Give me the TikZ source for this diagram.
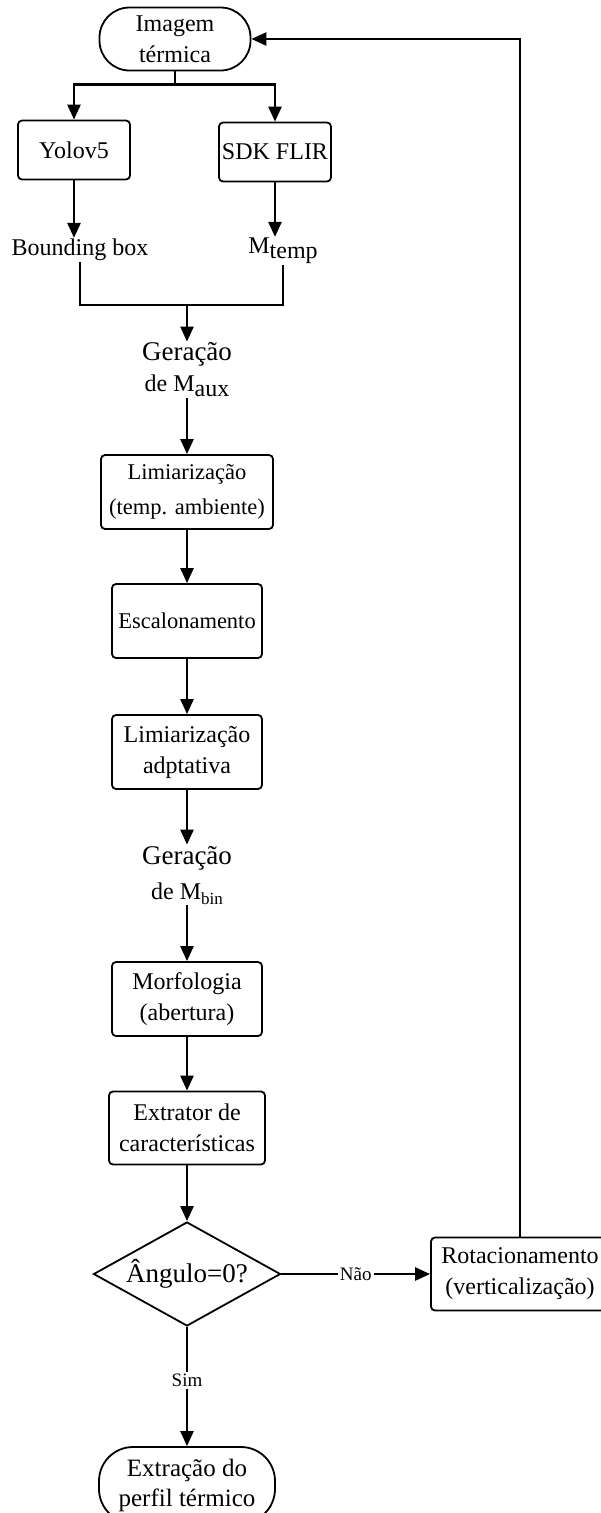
\documentclass[tikz,border=0pt]{standalone}
\usepackage{fontspec}
\setmainfont{Liberation Serif}
\usetikzlibrary{
    arrows.meta,
    shapes.geometric
}
\tikzset{
    every node/.style={font=\fontsize{24}{31}\selectfont, align=center},
    proc/.style={draw, line width=1.8pt, rounded corners=4pt, minimum width=150pt, minimum height=74pt, inner sep=2pt},
    term/.style={draw, line width=1.8pt, rounded corners=30pt, minimum height=63pt, inner sep=2pt},
    cond/.style={draw, diamond, line width=1.8pt, aspect=1.8, minimum width=187pt, minimum height=104pt, inner sep=0pt},
    txt/.style={inner sep=1pt},
    big/.style={font=\fontsize{27}{31}\selectfont},
    small/.style={font=\fontsize{22.5}{31}\selectfont},
    lbl/.style={fill=white, font=\fontsize{19}{21}\selectfont, inner sep=2pt},
    arr/.style={-{Triangle[length=15pt,width=13pt]}, line width=2.5pt},
    lin/.style={line width=2.5pt}
}
\newcommand{\lowsub}[2][24]{\raisebox{-5pt}{\fontsize{#1}{#1}\selectfont #2}}

\begin{document}
\begin{tikzpicture}[x=1pt, y=-1pt]
    \useasboundingbox (0,0) rectangle (601,1513);
    % nos
    \node[term, minimum width=151pt] (img) at (175,39) {Imagem\\térmica};
    \node[proc, minimum width=112pt, minimum height=59pt] (yolo) at (74,150) {Yolov5};
    \node[proc, minimum width=112pt, minimum height=59pt] (sdk) at (275,152) {SDK FLIR};
    \node[txt] (bbox) at (80,250) {Bounding box};
    \node[txt] (mtemp) at (283,251) {M\lowsub{temp}};
    \node[txt] (geraux) at (187,370) {{\fontsize{27}{31}\selectfont Geração}\\de M\lowsub{aux}};
    \node[proc, small, minimum width=172pt] (lim1) at (187,492) {Limiarização\\[4pt](temp. ambiente)};
    \node[proc, small] (esc) at (187,621) {Escalonamento};
    \node[proc] (lim2) at (187,752) {Limiarização\\adptativa};
    \node[txt] (gerbin) at (187,875) {{\fontsize{27}{31}\selectfont Geração}\\[4pt]de M\lowsub[17]{bin}};
    \node[proc] (morf) at (187,999) {Morfologia\\(abertura)};
    \node[proc, minimum width=156pt, minimum height=73pt] (extr) at (187,1128) {Extrator de\\características};
    \node[cond, big] (dec) at (187,1274) {Ângulo=0?};
    \node[proc, minimum width=178pt, minimum height=73pt] (rot) at (520,1274) {Rotacionamento\\(verticalização)};
    \node[term, minimum width=176pt, minimum height=76pt, rounded corners=34pt, font=\fontsize{25}{30}\selectfont] (fim) at (187,1485) {Extração do\\perfil térmico};
    % ligacoes
    \draw[lin] (img.south) -- ++(0,13) coordinate (split);
    \draw[arr] (split) -| (yolo.north);
    \draw[arr] (split) -| (sdk.north);
    \draw[arr] (yolo.south) -- (yolo.south |- bbox.north);
    \draw[arr] (sdk.south) -- (sdk.south |- mtemp.north);
    \coordinate (join) at (187,305);
    \draw[lin] (bbox.south) |- (join);
    \draw[lin] (mtemp.south) |- (join);
    \draw[arr] (join) -- (geraux.north);
    \draw[arr] (geraux.south) -- (lim1.north);
    \draw[arr] (lim1) -- (esc);
    \draw[arr] (esc) -- (lim2);
    \draw[arr] (lim2.south) -- (gerbin.north);
    \draw[arr] (gerbin.south) -- (morf.north);
    \draw[arr] (morf) -- (extr);
    \draw[arr] (extr) -- (dec);
    \draw[arr] (dec.east) -- node[lbl] {Não} (rot.west);
    \draw[arr] (dec.south) -- node[lbl, pos=0.45] {Sim} (fim.north);
    \draw[arr] (rot.north) |- (img.east);
\end{tikzpicture}
\end{document}
